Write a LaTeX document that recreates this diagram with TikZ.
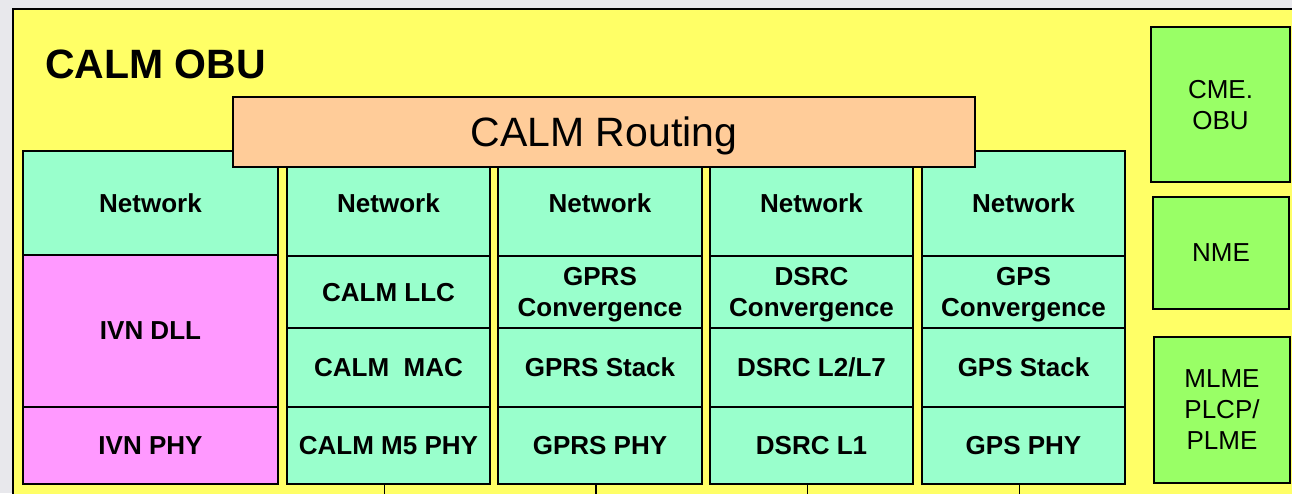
\documentclass[tikz,border=0pt]{standalone}
\usepackage{fontspec}
\setmainfont{Liberation Sans}
\definecolor{pagegray}{RGB}{232,232,236}
\definecolor{obuyellow}{RGB}{255,255,102}
\definecolor{layeraqua}{RGB}{153,255,204}
\definecolor{ivnpink}{RGB}{255,153,255}
\definecolor{routepeach}{RGB}{255,204,153}
\definecolor{mgmtgreen}{RGB}{153,255,102}
\tikzset{
  box/.style={draw=black, line width=2pt, inner sep=0pt, align=center, text depth=0pt},
  layer/.style={box, fill=layeraqua, font=\fontsize{26}{31}\selectfont\bfseries},
  ivn/.style={box, fill=ivnpink, font=\fontsize{26}{31}\selectfont\bfseries},
  mgmt/.style={box, fill=mgmtgreen, font=\fontsize{26}{31}\selectfont},
  route/.style={box, fill=routepeach, font=\fontsize{41}{48}\selectfont},
  tick/.style={draw=black, line width=1.2pt},
  title/.style={font=\fontsize{41}{48}\selectfont\bfseries, inner sep=0pt}
}
% \cellbox{style}{x1}{y1}{x2}{y2}{name}{text}
\newcommand\cellbox[7]{%
  \node[#1, minimum width={#4-#2}, minimum height={#5-#3}] (#6)
    at ({(#2+#4)/2},{(#3+#5)/2}) {#7};}
\begin{document}
\begin{tikzpicture}[x=1pt, y=-1pt]
  \useasboundingbox (0,0) rectangle (1292,493);
  \clip (0,0) rectangle (1292,493);
  \fill[pagegray] (0,0) rectangle (1292,493);
  % enclosing OBU frame
  \draw[fill=obuyellow, line width=2pt] (13,9) rectangle (1298,520);
  \node[title, anchor=base west] (obu) at (45,78) {CALM OBU};

  % in-vehicle network stack
  \cellbox{layer}{23}{151}{278}{255}{ivnnet}{Network}
  \cellbox{ivn}{23}{255}{278}{407}{ivndll}{IVN DLL}
  \cellbox{ivn}{23}{407}{278}{484}{ivnphy}{IVN PHY}

  % CALM M5 stack
  \cellbox{layer}{287}{151}{490}{256}{mnet}{Network}
  \cellbox{layer}{287}{256}{490}{328}{mllc}{CALM LLC}
  \cellbox{layer}{287}{328}{490}{407}{mmac}{CALM~~MAC}
  \cellbox{layer}{287}{407}{490}{484}{mphy}{CALM M5 PHY}

  % GPRS stack
  \cellbox{layer}{498}{151}{702}{256}{gnet}{Network}
  \cellbox{layer}{498}{256}{702}{328}{gconv}{GPRS\\Convergence}
  \cellbox{layer}{498}{328}{702}{407}{gstack}{GPRS Stack}
  \cellbox{layer}{498}{407}{702}{484}{gphy}{GPRS PHY}

  % DSRC stack
  \cellbox{layer}{710}{151}{913}{256}{dnet}{Network}
  \cellbox{layer}{710}{256}{913}{328}{dconv}{DSRC\\Convergence}
  \cellbox{layer}{710}{328}{913}{407}{dstack}{DSRC L2/L7}
  \cellbox{layer}{710}{407}{913}{484}{dphy}{DSRC L1}

  % GPS stack
  \cellbox{layer}{922}{151}{1125}{256}{pnet}{Network}
  \cellbox{layer}{922}{256}{1125}{328}{pconv}{GPS\\Convergence}
  \cellbox{layer}{922}{328}{1125}{407}{pstack}{GPS Stack}
  \cellbox{layer}{922}{407}{1125}{484}{pphy}{GPS PHY}

  % routing layer spanning the stacks
  \cellbox{route}{233}{97}{975}{167}{routing}{CALM Routing}

  % management entities
  \cellbox{mgmt}{1151}{27}{1290}{182}{cme}{CME.\\OBU}
  \cellbox{mgmt}{1153}{197}{1289}{309}{nme}{NME}
  \cellbox{mgmt}{1154}{337}{1290}{483}{mlme}{MLME\\PLCP/\\PLME}

  % links leaving the physical layers downwards
  \foreach \p in {mphy,gphy,dphy,pphy}{
    \coordinate (\p-down) at ([xshift=-4pt,yshift=-12pt]\p.south);
    \draw[tick] ([xshift=-4pt]\p.south) -- (\p-down);
  }
\end{tikzpicture}
\end{document}
